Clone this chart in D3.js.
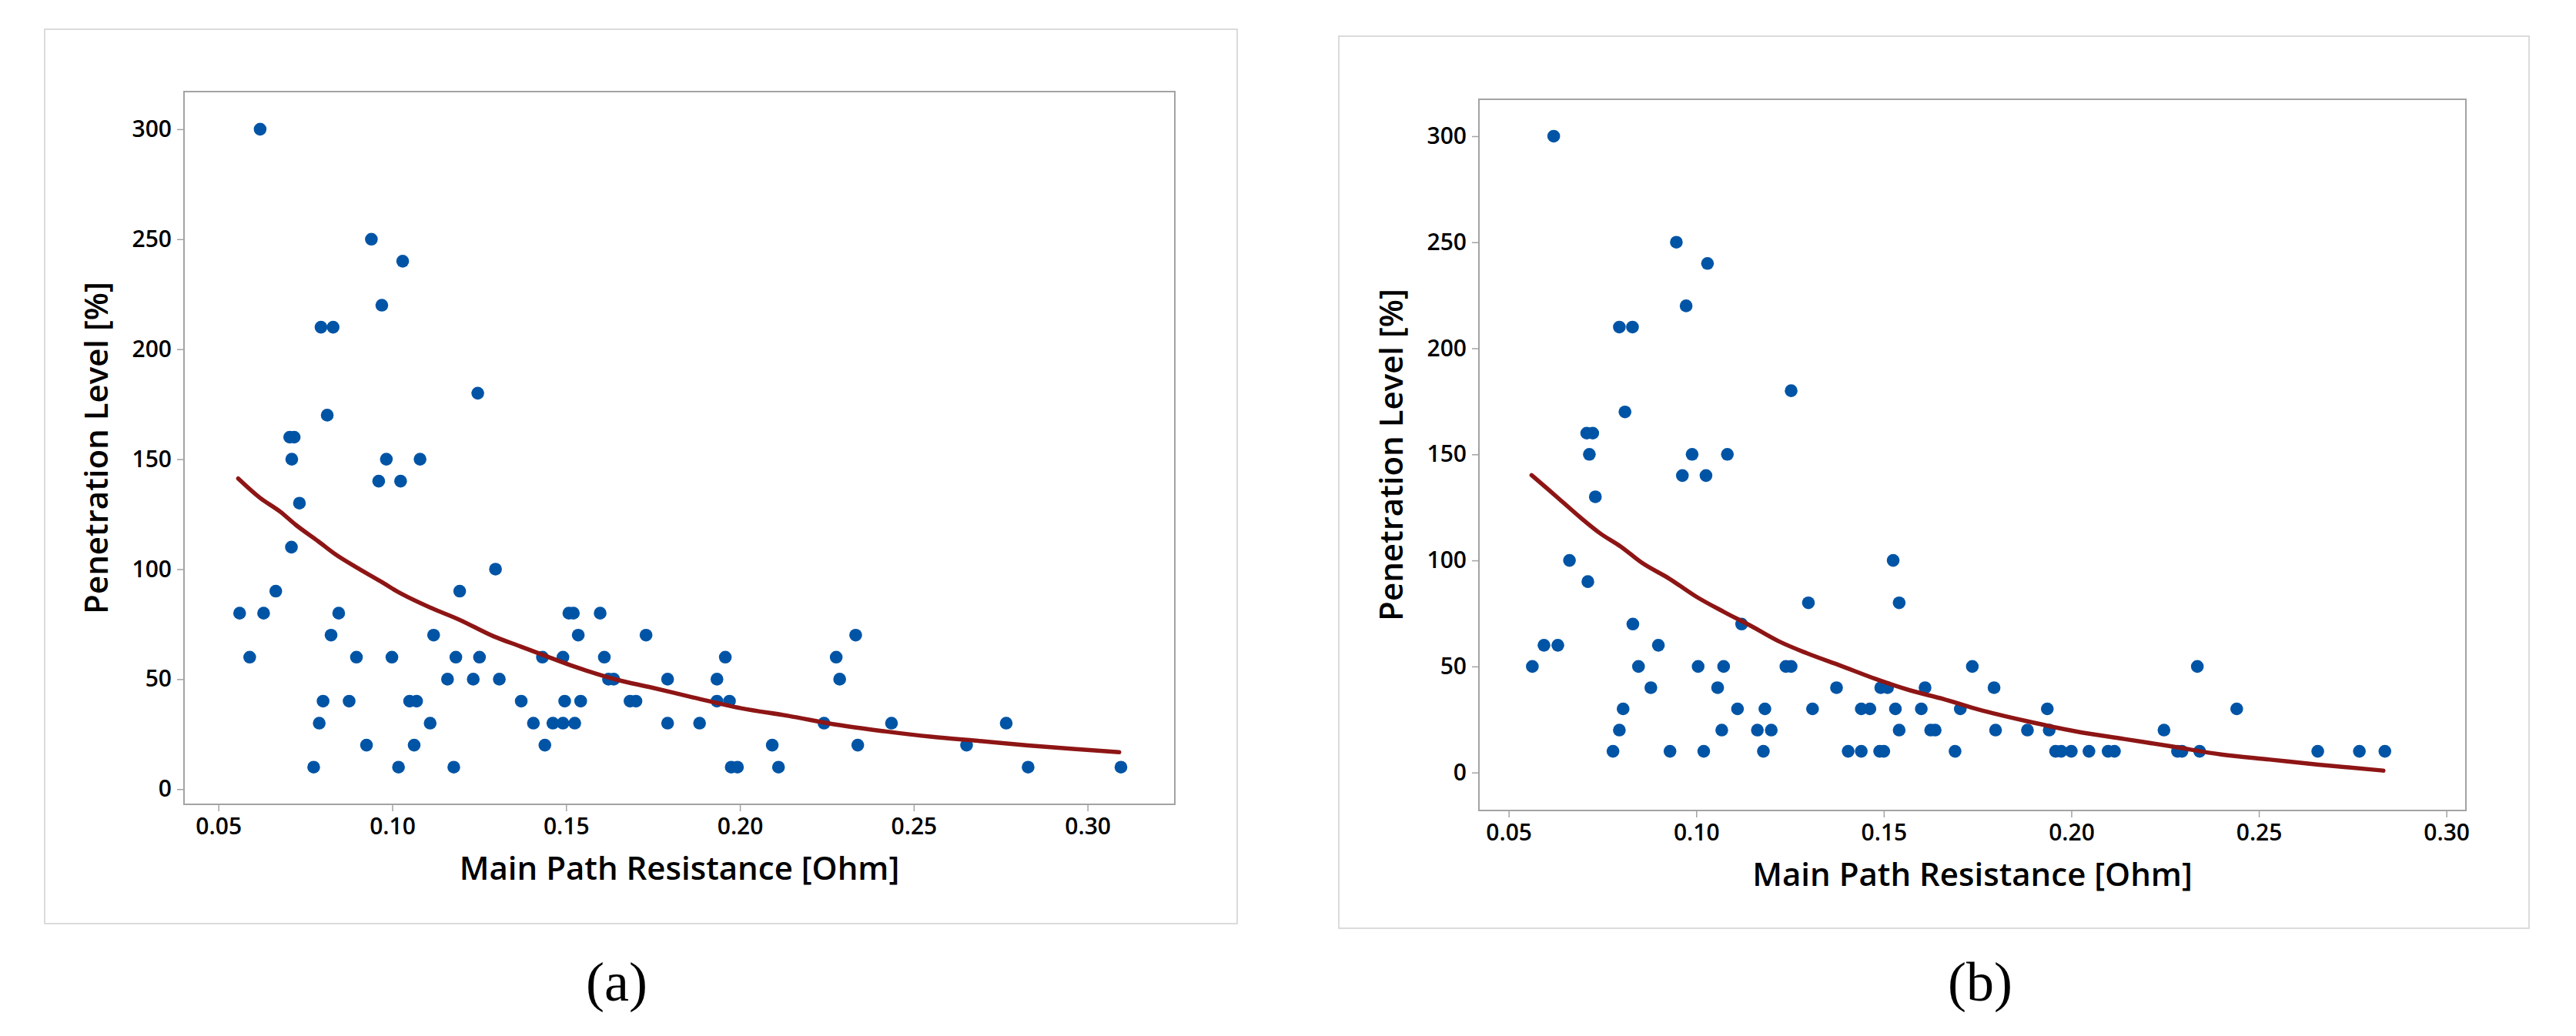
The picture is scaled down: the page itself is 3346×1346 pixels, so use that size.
<!DOCTYPE html>
<html>
<head>
<meta charset="utf-8">
<script src="https://cdn.jsdelivr.net/npm/d3@7"></script>
<style>
  body { margin: 0; background: #ffffff; }
  svg { display: block; }
</style>
</head>
<body>
<svg id="chart" width="3346" height="1346"></svg>
<script>
// ---------------- DATA ----------------
const xTickValues = [0.05, 0.10, 0.15, 0.20, 0.25, 0.30];
const yTickValues = [0, 50, 100, 150, 200, 250, 300];
const xAxisTitle = "Main Path Resistance [Ohm]";
const yAxisTitle = "Penetration Level [%]";
const captions = ["(a)", "(b)"];

// Panel (a): observed points (Main Path Resistance [Ohm], Penetration Level [%])
const resistanceA = [
  0.062, 0.094, 0.103, 0.097, 0.0795, 0.083, 0.1246, 0.0813, 0.0705, 0.0718,
  0.0711, 0.0983, 0.108, 0.0961, 0.1024, 0.0733, 0.0710, 0.1297, 0.0665, 0.1194,
  0.0561, 0.063, 0.0846, 0.1508, 0.1521, 0.1598,
  0.0824, 0.1119, 0.1535, 0.173, 0.2333,
  0.059, 0.0897, 0.0999, 0.1183, 0.1251, 0.1432, 0.1491, 0.161, 0.1958, 0.2277,
  0.1159, 0.1233, 0.1308, 0.1622, 0.1637, 0.1792, 0.1934, 0.2287,
  0.0801, 0.0876, 0.105, 0.107, 0.1371, 0.1496, 0.1542, 0.1684, 0.1701, 0.1934, 0.197,
  0.079, 0.1109, 0.1406, 0.1462, 0.1491, 0.1525, 0.1792, 0.1884, 0.2242, 0.2436, 0.2766,
  0.0926, 0.1063, 0.1439, 0.2093, 0.2339, 0.2652,
  0.0774, 0.1018, 0.1177, 0.1975, 0.1993, 0.2111, 0.2829, 0.3096
];
const penetrationA = [
  300, 250, 240, 220, 210, 210, 180, 170, 160, 160,
  150, 150, 150, 140, 140, 130, 110, 100, 90, 90,
  80, 80, 80, 80, 80, 80,
  70, 70, 70, 70, 70,
  60, 60, 60, 60, 60, 60, 60, 60, 60, 60,
  50, 50, 50, 50, 50, 50, 50, 50,
  40, 40, 40, 40, 40, 40, 40, 40, 40, 40, 40,
  30, 30, 30, 30, 30, 30, 30, 30, 30, 30, 30,
  20, 20, 20, 20, 20, 20,
  10, 10, 10, 10, 10, 10, 10, 10
];
// Panel (a): fitted line
const fitResistanceA = [0.0557, 0.0619, 0.0678, 0.0722, 0.0787, 0.0836, 0.0895, 0.0965, 0.1014, 0.1113,
  0.1192, 0.1291, 0.137, 0.1429, 0.1528, 0.1647, 0.1746, 0.1865, 0.2003, 0.214,
  0.2278, 0.2416, 0.2553, 0.2691, 0.2829, 0.2967, 0.3091];
const fitPenetrationA = [141.2, 132.5, 126.1, 120.2, 112.7, 106.8, 101, 94.6, 89.9, 82.3,
  77.1, 69.5, 64.8, 61.3, 55.5, 49.7, 46.2, 41.7, 36.8, 33.3,
  29.3, 26.3, 23.8, 21.9, 19.9, 18.2, 16.8];

// Panel (b): observed points
const resistanceB = [
  0.062, 0.0947, 0.103, 0.0973, 0.0795, 0.083, 0.1253, 0.081, 0.0708, 0.0724,
  0.0715, 0.0989, 0.1083, 0.0963, 0.1026, 0.0731, 0.0662, 0.1525, 0.0711,
  0.1299, 0.1541, 0.0831, 0.1121, 0.0594, 0.0631, 0.0899,
  0.0563, 0.0846, 0.1005, 0.1073, 0.1239, 0.1253, 0.1736, 0.2336,
  0.0879, 0.1057, 0.1374, 0.1492, 0.151, 0.161, 0.1794,
  0.0805, 0.111, 0.1183, 0.131, 0.144, 0.1463, 0.1531, 0.16, 0.1704, 0.1936, 0.2441,
  0.0795, 0.1068, 0.1163, 0.12, 0.1541, 0.1625, 0.1637, 0.1798, 0.1883, 0.1941, 0.2247,
  0.0778, 0.093, 0.102, 0.1179, 0.1405, 0.144, 0.1489, 0.15, 0.169, 0.1958, 0.1973,
  0.2, 0.2047, 0.2098, 0.2115, 0.2283, 0.2295, 0.2342, 0.2657, 0.2768, 0.2836
];
const penetrationB = [
  300, 250, 240, 220, 210, 210, 180, 170, 160, 160,
  150, 150, 150, 140, 140, 130, 100, 100, 90,
  80, 80, 70, 70, 60, 60, 60,
  50, 50, 50, 50, 50, 50, 50, 50,
  40, 40, 40, 40, 40, 40, 40,
  30, 30, 30, 30, 30, 30, 30, 30, 30, 30, 30,
  20, 20, 20, 20, 20, 20, 20, 20, 20, 20, 20,
  10, 10, 10, 10, 10, 10, 10, 10, 10, 10, 10,
  10, 10, 10, 10, 10, 10, 10, 10, 10, 10
];
// Panel (b): fitted line
const fitResistanceB = [0.0561, 0.0603, 0.0635, 0.069, 0.0745, 0.0799, 0.0854, 0.0928, 0.1001, 0.1074,
  0.1147, 0.1221, 0.1294, 0.1386, 0.1477, 0.1569, 0.166, 0.1753, 0.1882, 0.2012,
  0.2141, 0.2271, 0.24, 0.253, 0.2659, 0.2832];
const fitPenetrationB = [140.2, 133.8, 128.9, 120.4, 112.6, 106.5, 99.0, 91.4, 82.8, 75.7,
  69.0, 61.8, 56.3, 50.3, 44.2, 38.8, 34.6, 29.7, 24.2, 19.4,
  15.8, 12.2, 8.5, 6.1, 3.7, 0.9];

// ---------------- LAYOUT ----------------
const panels = [
  {
    caption: captions[0], xs: resistanceA, ys: penetrationA, fxs: fitResistanceA, fys: fitPenetrationA,
    box: {x0: 58, y0: 38, x1: 1607, y1: 1200},
    frame: {x0: 239, y0: 119, x1: 1526, y1: 1045},
    xDomain: [0.0401, 0.3251], yDomain: [-6.9, 317.1], captionX: 801
  },
  {
    caption: captions[1], xs: resistanceB, ys: penetrationB, fxs: fitResistanceB, fys: fitPenetrationB,
    box: {x0: 1739, y0: 47, x1: 3285, y1: 1206},
    frame: {x0: 1921, y0: 129, x1: 3203, y1: 1053},
    xDomain: [0.04206, 0.3052], yDomain: [-17.9, 317.4], captionX: 2572
  }
];

const POINT_COLOR = "#0054a5";
const FIT_COLOR = "#8e1515";
const FRAME_COLOR = "#a3a3a3";
const BOX_COLOR = "#d0d0d0";
const SANS = "'Open Sans', 'Noto Sans', sans-serif";

const svg = d3.select("#chart");
svg.append("rect").attr("width", 3346).attr("height", 1346).attr("fill", "#ffffff");

panels.forEach(p => {
  const g = svg.append("g");
  const f = p.frame;

  // outer figure box
  g.append("rect")
    .attr("x", p.box.x0).attr("y", p.box.y0)
    .attr("width", p.box.x1 - p.box.x0).attr("height", p.box.y1 - p.box.y0)
    .attr("fill", "none").attr("stroke", BOX_COLOR).attr("stroke-width", 1.5);

  const x = d3.scaleLinear().domain(p.xDomain).range([f.x0, f.x1]);
  const y = d3.scaleLinear().domain(p.yDomain).range([f.y1, f.y0]);

  // axes
  const xAxis = g.append("g")
    .attr("transform", `translate(0,${f.y1})`)
    .call(d3.axisBottom(x).tickValues(xTickValues).tickSize(9).tickPadding(9)
      .tickFormat(d3.format(".2f")));
  const yAxis = g.append("g")
    .attr("transform", `translate(${f.x0},0)`)
    .call(d3.axisLeft(y).tickValues(yTickValues).tickSize(9).tickPadding(7)
      .tickFormat(d3.format("d")));
  [xAxis, yAxis].forEach(a => {
    a.select(".domain").remove();
    a.selectAll(".tick line").attr("stroke", FRAME_COLOR).attr("stroke-width", 1.5);
    a.selectAll(".tick text")
      .attr("fill", "#000").style("font-family", SANS).style("font-size", "30px")
      .style("font-weight", 600);
  });

  // plot frame
  g.append("rect")
    .attr("x", f.x0).attr("y", f.y0)
    .attr("width", f.x1 - f.x0).attr("height", f.y1 - f.y0)
    .attr("fill", "none").attr("stroke", FRAME_COLOR).attr("stroke-width", 2);

  // points
  const pts = p.xs.map((v, i) => ({x: v, y: p.ys[i]}));
  g.append("g").selectAll("circle").data(pts).join("circle")
    .attr("cx", d => x(d.x)).attr("cy", d => y(d.y))
    .attr("r", 8.3).attr("fill", POINT_COLOR);

  // fitted line
  const fit = p.fxs.map((v, i) => ({x: v, y: p.fys[i]}));
  g.append("path").datum(fit)
    .attr("d", d3.line().x(d => x(d.x)).y(d => y(d.y)).curve(d3.curveMonotoneX))
    .attr("fill", "none").attr("stroke", FIT_COLOR).attr("stroke-width", 5.5)
    .attr("stroke-linecap", "round").attr("stroke-linejoin", "round");

  // axis titles
  g.append("text")
    .attr("x", (f.x0 + f.x1) / 2).attr("y", f.y1 + 98)
    .attr("text-anchor", "middle")
    .style("font-family", SANS).style("font-size", "42px").style("font-weight", 600)
    .attr("fill", "#000")
    .text(xAxisTitle);
  g.append("text")
    .attr("transform", `translate(${f.x0 - 99},${(f.y0 + f.y1) / 2}) rotate(-90)`)
    .attr("text-anchor", "middle")
    .style("font-family", SANS).style("font-size", "42px").style("font-weight", 600)
    .attr("fill", "#000")
    .text(yAxisTitle);

  // caption
  g.append("text")
    .attr("x", p.captionX).attr("y", 1300)
    .attr("text-anchor", "middle")
    .style("font-family", "'Liberation Serif', 'DejaVu Serif', serif").style("font-size", "72px")
    .attr("fill", "#000")
    .text(p.caption);
});
</script>
</body>
</html>
